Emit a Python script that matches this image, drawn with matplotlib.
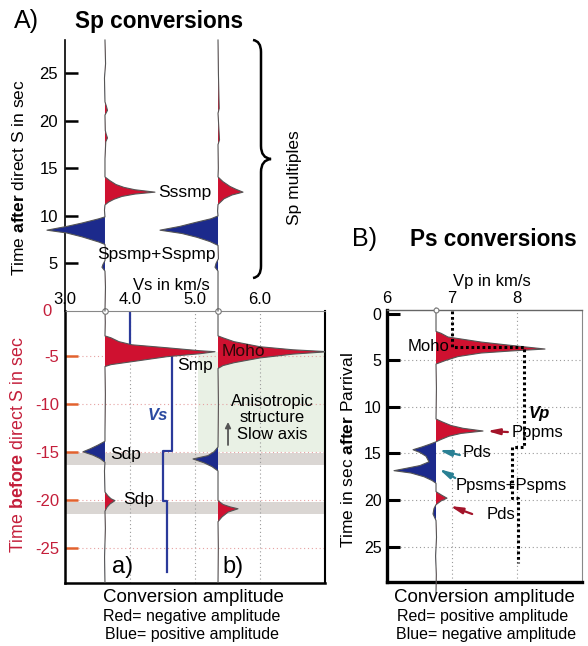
import numpy as np
import matplotlib
matplotlib.use('Agg')
import matplotlib.pyplot as plt
from matplotlib.path import Path
from matplotlib.patches import PathPatch, Rectangle
from matplotlib.transforms import Affine2D

plt.rcParams['font.family'] = ['Liberation Sans', 'DejaVu Sans']
plt.rcParams['mathtext.fontset'] = 'custom'
plt.rcParams['mathtext.rm'] = 'Liberation Sans'
plt.rcParams['mathtext.bf'] = 'Liberation Sans:bold'
plt.rcParams['mathtext.it'] = 'Liberation Sans:italic'

# ---------------- data ----------------
# Sp receiver function, trace a)  (time in s, amplitude; + = red lobe to the right)
SP_A_TIME = [28.5, 26.0, 24.5, 22.0, 21.5, 21.1, 20.6, 19.0, 18.6, 18.2, 17.8, 16.0,
             14.1, 13.7, 13.3, 13.0, 12.75, 12.5, 12.3, 12.05, 11.75, 11.45, 11.15,
             10.6, 9.9, 9.7, 9.25, 8.9, 8.5, 8.2, 7.8, 7.25, 7.0, 6.2, 5.3, 4.9, 4.6,
             4.2, 2.5, 0.0, -1.5, -2.9, -3.1, -3.5, -3.83, -4.14, -4.45, -4.55, -4.76,
             -5.07, -5.59, -5.9, -6.1, -9.0, -13.0, -13.9, -14.3, -14.7, -15.0, -15.35,
             -15.7, -16.1, -17.0, -19.2, -19.6, -19.9, -20.1, -20.45, -20.8, -21.2,
             -23.0, -26.0, -28.7]
SP_A_AMP = [0, 0.6, -0.5, 0, 1.5, 2.5, 0, 0.3, 1.2, 2.5, 0.8, 0,
            0, 5, 11, 19, 30, 50, 30, 17, 9, 3.5, 0,
            -0.5, 0, -6, -23, -38, -58, -38, -23, -6, 0, 0.6, 0, -2, -3,
            0, 0.5, 0, 0.3, 0, 6, 14, 27, 62, 95, 110, 95,
            62, 27, 6, 0, 0.4, 0, 0, -7, -15, -22, -12,
            -5, 0, -0.5, 0, 3, 6, 10, 5, 2, 0,
            0.4, -0.4, 0]
# Sp receiver function, trace b)
SP_B_TIME = [28.5, 25.0, 21.3, 20.8, 18.0, 17.5, 15.0, 14.1, 13.6, 13.1, 12.8, 12.5,
             12.2, 11.8, 11.2, 10.5, 10.0, 9.7, 9.3, 8.9, 8.5, 8.15, 7.75, 7.3, 6.9,
             5.5, 5.0, 4.6, 4.2, 0.0, -2.9, -3.1, -3.5, -4.03, -4.35, -4.55, -4.8,
             -5.2, -5.7, -6.0, -6.3, -10.0, -14.5, -15.0, -15.4, -15.75, -16.15,
             -16.55, -17.0, -20.1, -20.5, -20.75, -20.95, -21.3, -21.8, -22.3, -25.0,
             -28.7]
SP_B_AMP = [0, 0.4, 1.2, 0, 1.5, 0, 0.3, 0, 5, 12, 18, 25,
            14, 6, 0, -0.4, 0, -7, -23, -38, -58, -36, -21, -8, 0,
            0.4, -2, -3, 0, 0, 0, 5, 16, 42, 75, 110, 75,
            42, 16, 5, 0, 0.4, 0, -4, -10, -25, -14,
            -6, 0, 0, 5, 12, 20, 10, 4, 0, 0.3,
            0]
SP_BASE = [3.615, 5.354]          # trace positions on the Vs axis
SP_AMP_SCALE = 1 / 65.0

# Vs model
VS_TIME = [-0.3, -4.35, -4.35, -14.9, -14.9, -20.1, -20.1, -27.5]
VS_VEL = [4.0, 4.0, 4.65, 4.65, 4.51, 4.51, 4.57, 4.57]

# Ps receiver function
PS_TIME = [-0.6, 1.9, 2.1, 2.5, 3.04, 3.4, 3.79, 4.0, 4.22, 4.6, 5.0, 5.4, 8.0,
           11.3, 11.6, 12.0, 12.3, 12.59, 12.85, 13.15, 13.5, 13.75, 14.0, 14.3,
           14.6, 14.9, 15.3, 15.9, 16.3, 16.6, 16.85, 17.1, 17.5, 17.9, 18.2, 19.1,
           19.5, 19.8, 20.1, 20.5, 20.9, 21.5, 22.2, 24.0, 26.0, 28.0, 29.9]
PS_AMP = [0, 0, 5, 12, 45, 75, 109, 75, 45, 22, 10, 0, 0.4,
          0, 6, 15, 27, 47, 25, 13, 5, 0, -6, -14,
          -23, -16, -10, -7, -16, -30, -42, -25, -12, -4, 0, 0,
          6, 11, 5, 0, -2, -3, 0, 0.5, -0.4, 0.3, 0]
PS_BASE = 6.754
PS_AMP_SCALE = 1 / 65.0

# Vp model
VP_TIME = [-0.3, 3.6, 3.6, 14.3, 14.3, 19.8, 19.8, 26.8]
VP_VEL = [7.0, 7.0, 8.1, 8.1, 7.92, 7.92, 8.02, 8.02]

# phase arrows in Ps panel: (tail Vp, tail t, head Vp, head t, colour)
PS_ARROWS = [(7.86, 12.70, 7.54, 12.59, '#a3142a'),
             (7.12, 15.17, 6.80, 14.63, '#2a8094'),
             (7.05, 17.64, 6.80, 16.67, '#2a8094'),
             (7.31, 21.50, 6.97, 20.64, '#a3142a')]

SP_YTICKS_TOP = [5, 10, 15, 20, 25]
SP_YTICKS_BOT = [-5, -10, -15, -20, -25]
SP_XTICKS = [3.0, 4.0, 5.0, 6.0]
PS_YTICKS = [0, 5, 10, 15, 20, 25]
PS_XTICKS = [6, 7, 8]

RED = '#cf1130'
BLUE = '#1c2a8c'
W, H = 588, 646

fig = plt.figure(figsize=(W / 100, H / 100), dpi=100)


def px_axes(x0, y0, x1, y1):
    return fig.add_axes([x0 / W, 1 - y1 / H, (x1 - x0) / W, (y1 - y0) / H])


def ftext(x, y, s, **kw):
    return fig.text(x / W, 1 - y / H, s, **kw)


def draw_trace(ax, t, amp, base, scale, clip=True):
    t = np.asarray(t, float)
    x = base + np.asarray(amp, float) * scale
    ax.fill_betweenx(t, base, x, where=x >= base, interpolate=True, color=RED,
                     lw=0, zorder=3, clip_on=clip)
    ax.fill_betweenx(t, base, x, where=x <= base, interpolate=True, color=BLUE,
                     lw=0, zorder=3, clip_on=clip)
    ax.plot(x, t, color='#555555', lw=0.8, zorder=3.5, clip_on=clip)


# ---------------- Panel A, bottom (primary conversions) ----------------
axb = px_axes(65, 311, 325, 583)
axb.set_xlim(3.0, 7.0)
axb.set_ylim(-28.7, -0.3)
axb.add_patch(Rectangle((5.05, -15.0), 1.95, 10.4, color='#e9f1e5', lw=0, zorder=0.2))
for lo, hi in [(-16.4, -15.1), (-21.45, -20.25)]:
    axb.axhspan(lo, hi, color='#dad6d3', lw=0, zorder=0.5)
axb.vlines([4.0, 5.0, 6.0], -28.7, -0.3, colors='#9a9a9a', lw=0.8,
           linestyles=(0, (1, 2.5)), zorder=0.8)
axb.hlines(SP_YTICKS_BOT, 3.2, 7.0, colors='#e6a2a2', lw=0.8,
           linestyles=(0, (1, 2.5)), zorder=0.8)
axb.plot(VS_VEL, VS_TIME, color='#2b3a9a', lw=1.6, zorder=2)
ta = np.array(SP_A_TIME); aa = np.array(SP_A_AMP)
tb = np.array(SP_B_TIME); ab = np.array(SP_B_AMP)
draw_trace(axb, ta[ta <= 0], aa[ta <= 0], SP_BASE[0], SP_AMP_SCALE)
draw_trace(axb, tb[tb <= 0], ab[tb <= 0], SP_BASE[1], SP_AMP_SCALE)
axb.plot(SP_BASE, [-0.3, -0.3], 'o', mfc='white', mec='#777777', ms=4,
         mew=0.8, clip_on=False, zorder=6)

axb.set_yticks(SP_YTICKS_BOT)
axb.set_yticklabels([str(v) for v in SP_YTICKS_BOT])
axb.tick_params(axis='y', direction='in', length=9, width=1.8, color='#e2622e',
                labelcolor='#c41e3a', labelsize=12, pad=4)
axb.xaxis.tick_top()
axb.set_xticks(SP_XTICKS)
axb.set_xticklabels(['%.1f' % v for v in SP_XTICKS])
axb.tick_params(axis='x', length=0, labelsize=12, pad=3)
for side, lw, c in [('left', 1.8, 'black'), ('bottom', 1.8, 'black'),
                    ('right', 1.5, 'black'), ('top', 0.8, '#888888')]:
    axb.spines[side].set_linewidth(lw)
    axb.spines[side].set_color(c)

axb.text(5.415, -4.58, 'Moho', fontsize=12.5, color='#2a0808', va='center', zorder=5)
axb.text(5.277, -5.94, 'Smp', fontsize=12.5, ha='right', va='center', zorder=5)
axb.text(4.277, -11.16, 'Vs', fontsize=12, color='#2b4aa0', fontweight='bold',
         fontstyle='italic', va='center', zorder=5)
axb.text(6.185, -11.47, 'Anisotropic\nstructure\nSlow axis', fontsize=12,
         ha='center', va='center', linespacing=1.12, zorder=5)
axb.annotate('', xy=(5.508, -11.89), xytext=(5.508, -14.29),
             arrowprops=dict(arrowstyle='-|>', color='#555555', lw=1.3,
                             mutation_scale=8, shrinkA=0, shrinkB=0), zorder=5)
axb.text(3.69, -15.33, 'Sdp', fontsize=12.5, va='center', zorder=5)
axb.text(3.89, -20.03, 'Sdp', fontsize=12.5, va='center', zorder=5)
axb.text(3.72, -27.0, 'a)', fontsize=17, va='center', zorder=5)
axb.text(5.415, -27.0, 'b)', fontsize=17, va='center', zorder=5)

# ---------------- Panel A, top (multiples) ----------------
axt = px_axes(65, 40, 325, 311)
axt.set_xlim(3.0, 7.0)
axt.set_ylim(0, 28.5)
axt.patch.set_alpha(0)
for side in ['top', 'right', 'bottom']:
    axt.spines[side].set_visible(False)
axt.spines['left'].set_linewidth(1.2)
axt.set_xticks([])
axt.set_yticks(SP_YTICKS_TOP)
axt.tick_params(axis='y', direction='in', length=9, width=1.8, labelsize=12, pad=5)
draw_trace(axt, ta[ta >= 0], aa[ta >= 0], SP_BASE[0], SP_AMP_SCALE, clip=False)
draw_trace(axt, tb[tb >= 0], ab[tb >= 0], SP_BASE[1], SP_AMP_SCALE, clip=False)
axt.text(4.43, 12.51, 'Sssmp', fontsize=12.5, va='center', zorder=5)
axt.text(4.40, 5.89, 'Spsmp+Sspmp', fontsize=12.5, ha='center', va='center', zorder=5)
axt.text(4.63, 2.73, 'Vs in km/s', fontsize=12, ha='center', va='center', zorder=5)

# brace for the multiples
brace_v = [(253, 40), (261, 41), (261, 52), (261, 146), (261, 158), (271, 159),
           (261, 160), (261, 172), (261, 266), (261, 277), (253, 278)]
brace_c = [Path.MOVETO, Path.CURVE3, Path.CURVE3, Path.LINETO, Path.CURVE3, Path.CURVE3,
           Path.CURVE3, Path.CURVE3, Path.LINETO, Path.CURVE3, Path.CURVE3]
pix2fig = Affine2D().scale(1 / W, -1 / H).translate(0, 1) + fig.transFigure
fig.patches.append(PathPatch(Path(brace_v, brace_c), fill=False, lw=1.8,
                             color='black', transform=pix2fig))
ftext(295, 178, 'Sp multiples', fontsize=12.5, rotation=90, ha='center', va='center')

# ---------------- Panel B (Ps) ----------------
axp = px_axes(387, 310, 582, 582)
axp.set_xlim(6, 9)
axp.set_ylim(28.8, -0.4)
axp.vlines([7, 8], 28.8, -0.4, colors='#9a9a9a', lw=0.8, linestyles=(0, (1, 2.5)), zorder=0.8)
axp.hlines(PS_YTICKS[1:], 6.2, 9, colors='#9a9a9a', lw=0.8, linestyles=(0, (1, 2.5)), zorder=0.8)
draw_trace(axp, PS_TIME, PS_AMP, PS_BASE, PS_AMP_SCALE, clip=False)
axp.plot([PS_BASE], [-0.4], 'o', mfc='white', mec='#777777', ms=3.5, mew=0.8,
         clip_on=False, zorder=6)
axp.plot(VP_VEL, VP_TIME, color='black', lw=2.2, linestyle=(0, (0.9, 0.9)), zorder=4)
for x0, y0, x1, y1, c in PS_ARROWS:
    axp.annotate('', xy=(x1, y1), xytext=(x0, y0),
                 arrowprops=dict(arrowstyle='-|>,head_length=0.9,head_width=0.22',
                                 color=c, lw=1.6, mutation_scale=8,
                                 shrinkA=0, shrinkB=0), zorder=4.5)
axp.set_yticks(PS_YTICKS)
axp.tick_params(axis='y', direction='in', length=9, width=2.2, labelsize=11.5, pad=4)
axp.xaxis.tick_top()
axp.set_xticks(PS_XTICKS)
axp.tick_params(axis='x', length=0, labelsize=12, pad=3)
for side, lw, c in [('left', 2.4, 'black'), ('bottom', 2.4, 'black'),
                    ('right', 0.8, '#888888'), ('top', 1.0, '#666666')]:
    axp.spines[side].set_linewidth(lw)
    axp.spines[side].set_color(c)

axp.text(6.31, 3.57, 'Moho', fontsize=12, va='center', zorder=5)
axp.text(8.18, 10.66, 'Vp', fontsize=12, fontweight='bold', fontstyle='italic',
         va='center', zorder=5)
axp.text(7.92, 12.70, 'Pppms', fontsize=12, va='center', zorder=5)
axp.text(7.17, 14.95, 'Pds', fontsize=12, va='center', zorder=5)
axp.text(7.05, 18.39, 'Ppsms+Pspms', fontsize=12, va='center', zorder=5)
axp.text(7.54, 21.60, 'Pds', fontsize=12, va='center', zorder=5)

# ---------------- figure texts ----------------
ftext(14, 28, 'A)', fontsize=18, va='baseline')
ftext(75, 28, 'Sp conversions', fontsize=16.3, fontweight='bold', va='baseline')
ftext(352, 246, 'B)', fontsize=18, va='baseline')
ftext(410, 246, 'Ps conversions', fontsize=16.3, fontweight='bold', va='baseline')
ftext(47, 311, '0', fontsize=12, color='#c41e3a', ha='center', va='center')
ftext(19, 178, r'Time $\mathbf{after}$ direct S in sec', fontsize=12.5,
      rotation=90, ha='center', va='center')
ftext(19, 445, r'Time $\mathbf{before}$ direct S in sec', fontsize=12.8,
      color='#c41e3a', rotation=90, ha='center', va='center')
ftext(348, 450, r'Time in sec $\mathbf{after}$ Parrival', fontsize=12.5,
      rotation=90, ha='center', va='center')
ftext(492, 282, 'Vp in km/s', fontsize=12, ha='center', va='center')

ftext(193, 597, 'Conversion amplitude', fontsize=13.5, ha='center', va='center')
ftext(192, 616, 'Red= negative amplitude', fontsize=11.5, ha='center', va='center')
ftext(192, 634, 'Blue= positive amplitude', fontsize=11.5, ha='center', va='center')
ftext(484, 597, 'Conversion amplitude', fontsize=13.5, ha='center', va='center')
ftext(483, 617, 'Red= positive amplitude', fontsize=11.5, ha='center', va='center')
ftext(486, 635, 'Blue= negative amplitude', fontsize=11.5, ha='center', va='center')

fig.savefig('out.png', dpi=100)
